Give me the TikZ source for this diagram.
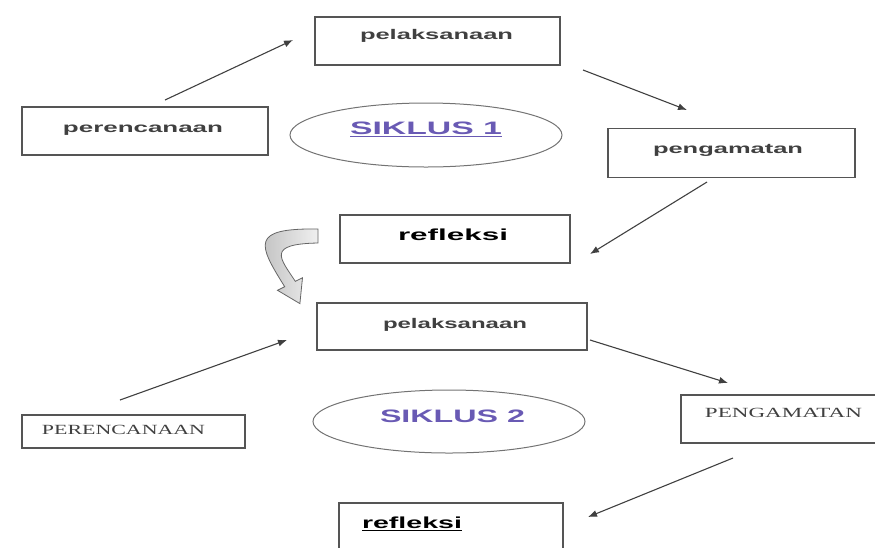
\documentclass[tikz,border=0pt]{standalone}
\usepackage{fontspec}
\setmainfont{Liberation Sans}
\newfontfamily\capsfont{Liberation Serif}
\usetikzlibrary{arrows.meta,calc,shapes.geometric}
\definecolor{sikluscolor}{RGB}{105,90,180}
\definecolor{boxline}{RGB}{85,85,85}
% text in a box: #1 = twice the x shift, #2 = baseline lift, #3 = printed width
\newcommand{\boxtext}[4]{\raisebox{#2}[0pt][0pt]{\makebox[0pt]{\hspace{#1}\resizebox{#3}{\height}{#4}}}}

\begin{document}
\begin{tikzpicture}[x=1pt,y=-1pt,
	stagebox/.style={draw=boxline, line width=1.2pt, inner sep=0pt, outer sep=0pt, text=black!75,
		font=\fontsize{14pt}{16pt}\selectfont\bfseries},
	capsbox/.style={stagebox, font=\fontsize{14pt}{16pt}\selectfont\capsfont},
	siklus/.style={ellipse, draw=black!55, line width=1pt, inner sep=0pt, outer sep=0pt,
		minimum width=272pt, minimum height=64pt, text=sikluscolor,
		font=\fontsize{18pt}{20pt}\selectfont\bfseries},
	flowarrow/.style={-{Latex[length=9pt,width=7pt]}, line width=1.1pt, black!75},
	curvedarrow/.style={left color=gray!55, right color=gray!12, draw=black!60, line width=0.8pt}]
	\useasboundingbox (0,0) rectangle (875,547);
	\clip (0,0) rectangle (875,547);
	
	% Siklus 1
	\node[stagebox, minimum width=246pt, minimum height=48pt] (per1) at (145,131) {\boxtext{-4pt}{-1.6pt}{160pt}{perencanaan}};
	\node[stagebox, minimum width=245pt, minimum height=48pt] (pel1) at (437.5,41) {\boxtext{-2pt}{1.4pt}{153pt}{pelaksanaan}};
	\node[stagebox, minimum width=247pt, minimum height=49pt] (pen1) at (731.5,153) {\boxtext{-7pt}{-0.6pt}{150pt}{pengamatan}};
	\node[stagebox, minimum width=230pt, minimum height=48pt, text=black,
		font=\fontsize{16pt}{18pt}\selectfont\bfseries] (ref1) at (455,239) {\boxtext{-4pt}{-1.8pt}{110pt}{refleksi}};
	\node[siklus] (sik1) at (426,135) {\boxtext{0pt}{0.6pt}{152pt}{\underline{SIKLUS 1}}};
	
	% Siklus 2
	\node[stagebox, minimum width=270pt, minimum height=47pt] (pel2) at (452,326.5) {\boxtext{6pt}{-2.1pt}{144pt}{pelaksanaan}};
	\node[capsbox, minimum width=223pt, minimum height=33pt] (per2) at (133.5,431.5) {\boxtext{-20pt}{-3.1pt}{163pt}{PERENCANAAN}};
	\node[capsbox, minimum width=196pt, minimum height=48pt] (pen2) at (779,419) {\boxtext{9pt}{1.4pt}{157pt}{PENGAMATAN}};
	\node[stagebox, minimum width=224pt, minimum height=48pt, text=black,
		font=\fontsize{16pt}{18pt}\selectfont\bfseries] (ref2) at (451,527) {\boxtext{-78pt}{-1.8pt}{100pt}{\underline{refleksi}}};
	\node[siklus, minimum height=63pt] (sik2) at (449,421.5) {\boxtext{7pt}{-0.9pt}{145pt}{SIKLUS 2}};
	
	% Arrows of siklus 1
	\draw[flowarrow] ($(per1.north)+(20,-7)$) -- ($(pel1.west)+(-22,-1)$);
	\draw[flowarrow] ($(pel1.south east)+(23,5)$) -- ($(pen1.north)+(-44.5,-18.5)$);
	\draw[flowarrow] ($(pen1.south)+(-24.5,4.5)$) -- ($(ref1.east)+(20,15)$);
	
	% Curved arrow from refleksi to the next pelaksanaan
	\draw[curvedarrow] (318,229) .. controls (250,228) and (258,244) .. (284.7,286.7)
		-- (277.5,290.3) -- (299.9,303.6) -- (302.5,277.7) -- (295.3,281.3)
		.. controls (280,258) and (266,244) .. (318,243) -- cycle;
	
	% Arrows of siklus 2
	\draw[flowarrow] ($(per2.north)+(-13.5,-15)$) -- ($(pel2.south west)+(-30,-10)$);
	\draw[flowarrow] ($(pel2.south east)+(3,-10)$) -- ($(pen2.north west)+(47,-12)$);
	\draw[flowarrow] ($(pen2.south west)+(52,15)$) -- ($(ref2.north east)+(25,14)$);
\end{tikzpicture}
\end{document}
